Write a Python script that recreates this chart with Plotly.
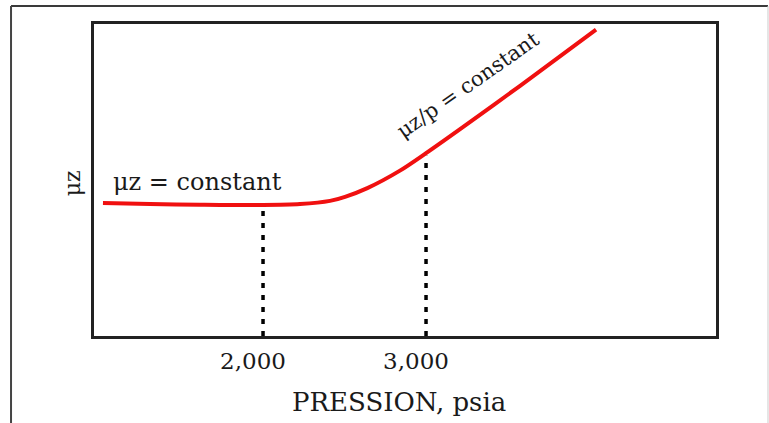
import plotly.graph_objects as go

# Pressure (psia) and relative viscosity-compressibility product (arbitrary units)
pressure = [1018, 1307, 1613, 2000, 2227, 2411, 2503, 2640, 2840, 3000, 3209, 3577, 4043]
mu_z = [4.26, 4.23, 4.21, 4.20, 4.23, 4.33, 4.46, 4.74, 5.30, 5.86, 6.63, 8.02, 9.82]

# Reference pressures marked with dotted drop lines
mark_pressure = [2000, 3000]
mark_labels = ["2,000", "3,000"]

FONT = "DejaVu Serif"
INK = "#1a1a1a"

fig = go.Figure()

# Dotted drop lines from the curve down to the pressure axis
for p in mark_pressure:
    top = mu_z[pressure.index(p)] - 0.08
    fig.add_trace(go.Scatter(
        x=[p, p], y=[0, top], mode="lines",
        line=dict(color="#000000", width=3.5, dash="5px,7px"),
        hoverinfo="skip", showlegend=False,
    ))

# The μz curve
fig.add_trace(go.Scatter(
    x=pressure, y=mu_z, mode="lines",
    line=dict(color="#f01010", width=4, shape="spline", smoothing=0.8),
    showlegend=False,
))

fig.update_layout(
    width=769, height=423,
    margin=dict(l=94, r=53, t=24, b=87),
    paper_bgcolor="white", plot_bgcolor="white",
    showlegend=False,
    font=dict(family=FONT, color=INK),
    xaxis=dict(
        range=[963, 4779], showgrid=False, zeroline=False,
        showline=True, linecolor="#222222", linewidth=3, mirror=True,
        tickvals=mark_pressure, ticktext=mark_labels, ticks="",
        tickfont=dict(family=FONT, size=23, color=INK),
        ticklabelshift=-10, ticklabelstandoff=2,
    ),
    yaxis=dict(
        range=[0, 10], showgrid=False, zeroline=False,
        showline=True, linecolor="#222222", linewidth=3, mirror=True,
        showticklabels=False, ticks="",
    ),
    annotations=[
        dict(text="μz = constant", x=1601, y=4.94, xref="x", yref="y",
             xanchor="center", yanchor="middle", showarrow=False,
             font=dict(family=FONT, size=24, color=INK)),
        dict(text="μz/p = constant", x=3258, y=8.04, xref="x", yref="y",
             xanchor="center", yanchor="middle", showarrow=False, textangle=-35,
             font=dict(family=FONT, size=21, color=INK)),
        dict(text="μz", x=-0.035, y=0.49, xref="paper", yref="paper",
             xanchor="center", yanchor="middle", showarrow=False, textangle=-90,
             font=dict(family=FONT, size=22, color=INK)),
        dict(text="PRESSION, psia", x=0.49, y=-0.21, xref="paper", yref="paper",
             xanchor="center", yanchor="middle", showarrow=False,
             font=dict(family=FONT, size=26, color=INK)),
    ],
    shapes=[
        # outer frame around the figure
        dict(type="line", xref="paper", yref="paper", x0=-0.1334, x1=1.0836,
             y0=1.0577, y1=1.0577, line=dict(color="#3a3a3a", width=2)),
        dict(type="line", xref="paper", yref="paper", x0=-0.1334, x1=-0.1334,
             y0=1.0577, y1=-0.3, line=dict(color="#444444", width=2)),
        dict(type="line", xref="paper", yref="paper", x0=1.0836, x1=1.0836,
             y0=1.0577, y1=-0.3, line=dict(color="#cccccc", width=1)),
    ],
)

fig.write_html("out.html")
